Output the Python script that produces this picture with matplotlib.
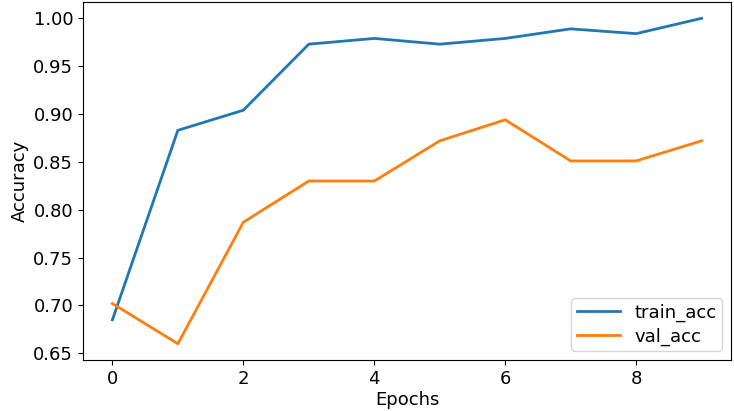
import matplotlib
matplotlib.use("Agg")
from matplotlib import pyplot as plt

epochs = list(range(10))
train_acc = [0.685, 0.883, 0.904, 0.973, 0.979, 0.973, 0.979, 0.989, 0.984, 1.000]
val_acc = [0.702, 0.660, 0.787, 0.830, 0.830, 0.872, 0.894, 0.851, 0.851, 0.872]

plt.rcParams['font.size'] = 13

fig = plt.figure(figsize=(7.34, 4.11), dpi=100)
ax = fig.add_axes([0.113, 0.124, 0.883, 0.871])

ax.plot(epochs, train_acc, label='train_acc', linewidth=2)
ax.plot(epochs, val_acc, label='val_acc', linewidth=2)
ax.set_xlabel('Epochs', labelpad=2)
ax.set_ylabel('Accuracy', labelpad=3)
ax.legend(loc='lower right', fontsize=13, labelspacing=0.3, borderpad=0.3,
          handlelength=2.4)

fig.savefig('out.png', dpi=100)
